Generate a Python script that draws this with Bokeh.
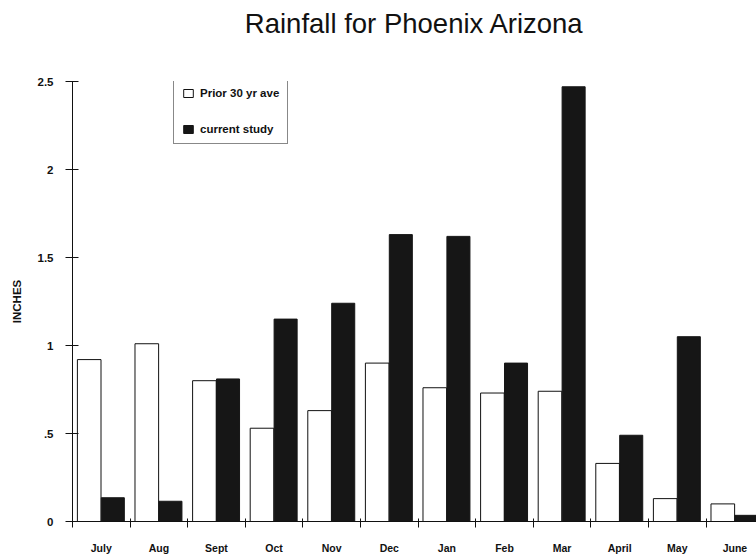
from bokeh.plotting import figure
from bokeh.models import (ColumnDataSource, FixedTicker, Range1d, Legend, LegendItem, Title)
from bokeh.embed import file_html
from bokeh.resources import INLINE

months = ["July", "Aug", "Sept", "Oct", "Nov", "Dec", "Jan", "Feb", "Mar", "April", "May", "June"]
prior_30yr_ave = [0.92, 1.01, 0.80, 0.53, 0.63, 0.90, 0.76, 0.73, 0.74, 0.33, 0.13, 0.10]
current_study = [0.135, 0.115, 0.81, 1.15, 1.24, 1.63, 1.62, 0.90, 2.47, 0.49, 1.05, 0.035]
y_ticks = [0, 0.5, 1, 1.5, 2, 2.5]
y_tick_labels = ["0", ".5", "1", "1.5", "2", "2.5"]

idx = list(range(len(months)))
src = ColumnDataSource(dict(
    x_prior=[i + 0.29 for i in idx],
    x_cur=[i + 0.70 for i in idx],
    prior=prior_30yr_ave,
    cur=current_study,
))

FONT = "Liberation Sans"

p = figure(width=756, height=556, output_backend="svg", toolbar_location=None,
           x_range=Range1d(0, 11.875), y_range=Range1d(0, 2.5),
           min_border_left=72, min_border_right=0, min_border_top=81, min_border_bottom=33,
           background_fill_color="white", border_fill_color="white",
           title="Rainfall for Phoenix Arizona")
p.outline_line_color = None
p.grid.visible = False

p.title.text_font = FONT
p.title.text_font_size = "27.5px"
p.title.text_font_style = "normal"
p.title.align = "center"
p.title.text_color = "#111111"
p.title.standoff = 0

# empty spacer between the frame and the title
p.add_layout(Title(text=" ", text_font_size="1px", standoff=40), "above")

r1 = p.vbar(x="x_prior", top="prior", width=0.41, bottom=0, source=src,
            fill_color="white", line_color="#111111", line_width=1)
r2 = p.vbar(x="x_cur", top="cur", width=0.40, bottom=0, source=src,
            fill_color="#161616", line_color="#161616", line_width=1)

# x axis: ticks at month boundaries (minor), labels at centers (major)
xa = p.xaxis[0]
xa.ticker = FixedTicker(ticks=[i + 0.5 for i in idx], minor_ticks=list(range(len(months) + 1)))
xa.major_label_overrides = {i + 0.5: m for i, m in zip(idx, months)}
xa.major_tick_in = 0
xa.major_tick_out = 0
xa.minor_tick_in = 3
xa.minor_tick_out = 6
xa.minor_tick_line_color = "#111111"
xa.axis_line_color = "#111111"
xa.major_label_standoff = 14
xa.major_label_text_font = FONT
xa.major_label_text_font_style = "bold"
xa.major_label_text_font_size = "10.5px"
xa.major_label_text_color = "#111111"

ya = p.yaxis[0]
ya.ticker = FixedTicker(ticks=y_ticks, minor_ticks=[])
ya.major_label_overrides = {t: l for t, l in zip(y_ticks, y_tick_labels)}
ya.major_tick_in = 6
ya.major_tick_out = 7
ya.major_tick_line_color = "#111111"
ya.axis_line_color = "#111111"
ya.major_label_standoff = 12
ya.major_label_text_font = FONT
ya.major_label_text_font_style = "bold"
ya.major_label_text_font_size = "11.5px"
ya.major_label_text_color = "#111111"
ya.axis_label = "INCHES"
ya.axis_label_text_font = FONT
ya.axis_label_text_font_style = "bold"
ya.axis_label_text_font_size = "11.5px"
ya.axis_label_text_color = "#111111"
ya.axis_label_standoff = 12

legend = Legend(items=[LegendItem(label="Prior 30 yr ave", renderers=[r1]),
                       LegendItem(label="current study", renderers=[r2])],
                location=(101, 377))
legend.border_line_color = "#111111"
legend.border_line_width = 1.5
legend.background_fill_color = "white"
legend.background_fill_alpha = 1
legend.label_text_font = FONT
legend.label_text_font_style = "bold"
legend.label_text_font_size = "11.5px"
legend.label_text_color = "#111111"
legend.glyph_width = 12
legend.glyph_height = 10
legend.label_height = 12
legend.spacing = 24
legend.padding = 8
legend.label_standoff = 6
legend.margin = 0
p.add_layout(legend, "center")

open("out.html", "w").write(file_html(p, INLINE))
